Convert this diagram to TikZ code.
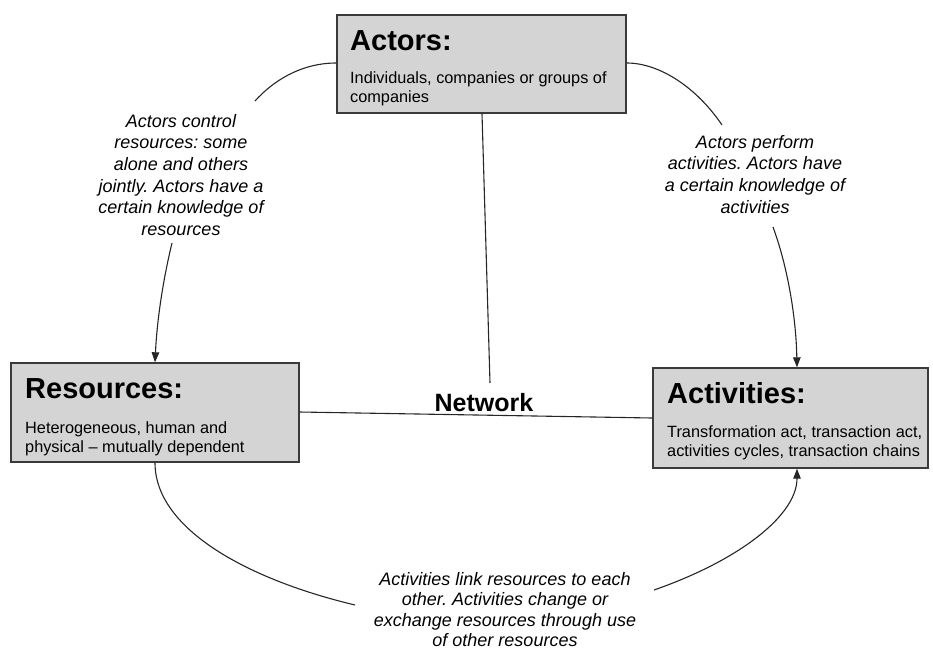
\documentclass[tikz,border=0pt]{standalone}
\usepackage{fontspec}
\setmainfont{Liberation Sans}
\usetikzlibrary{arrows.meta}
\frenchspacing
\definecolor{boxfill}{HTML}{D4D4D4}
\definecolor{boxline}{HTML}{3A3A3A}
\tikzset{
  box/.style={draw=boxline, line width=1.4pt, fill=boxfill, inner sep=0pt},
  boxtitle/.style={anchor=base west, inner sep=0pt, font=\fontsize{29}{32}\selectfont\bfseries},
  boxbody/.style={anchor=base west, inner sep=0pt, font=\fontsize{16.3}{19}\selectfont},
  linklabel/.style={anchor=base, inner sep=0pt, font=\fontsize{18}{21.7}\selectfont\itshape},
  link/.style={line width=1.1pt, draw=black!85},
  tip/.style={-{Triangle[length=10pt,width=7.5pt]}}
}
\begin{document}
\begin{tikzpicture}[x=1pt,y=-1pt]
\useasboundingbox (0,0) rectangle (933,653);

% the three boxes
\node[box, minimum width=289pt, minimum height=98pt] (actors) at (481.5,64) {};
\node[box, minimum width=288pt, minimum height=99pt] (resources) at (155,412.5) {};
\node[box, minimum width=275pt, minimum height=100pt] (activities) at (790.5,418) {};

% box texts
\node[boxtitle] (actorsT) at (350,50) {Actors:};
\node[boxbody] (actorsB) at (350,83) {\begin{tabular}[t]{@{}l@{}}Individuals, companies or groups of\\companies\end{tabular}};
\node[boxtitle] (resourcesT) at (25,398) {Resources:};
\node[boxbody] (resourcesB) at (25,433) {\begin{tabular}[t]{@{}l@{}}Heterogeneous, human and\\physical -- mutually dependent\end{tabular}};
\node[boxtitle] (activitiesT) at (667,403) {Activities:};
\node[boxbody] (activitiesB) at (667,437) {\begin{tabular}[t]{@{}l@{}}Transformation act, transaction act,\\activities cycles, transaction chains\end{tabular}};

% network lines
\coordinate (netTop) at (490,383);
\draw[link] (actors.south -| 482,0) -- (netTop);
\draw[link] (resources.east |- 0,412) -- (activities.west |- 0,418);
\node[anchor=base, inner sep=0pt, font=\fontsize{25}{28}\selectfont\bfseries] (network) at (484,411) {Network};

% link labels
\node[linklabel] (lblAR) at (181,127) {\begin{tabular}[t]{@{}c@{}}Actors control\\resources: some\\alone and others\\jointly. Actors have a\\certain knowledge of\\resources\end{tabular}};
\node[linklabel] (lblAA) at (755,148) {\begin{tabular}[t]{@{}c@{}}Actors perform\\activities. Actors have\\a certain knowledge of\\activities\end{tabular}};
\node[linklabel, font=\fontsize{18}{20.6}\selectfont\itshape] (lblRA) at (505,585) {\begin{tabular}[t]{@{}c@{}}Activities link resources to each\\other. Activities change or\\exchange resources through use\\of other resources\end{tabular}};

% free ends of the curved connectors
\coordinate (c1) at (255,101);
\coordinate (c2) at (172,243);
\coordinate (c3) at (722,125);
\coordinate (c4) at (773,227);
\coordinate (c5) at (355,605);
\coordinate (c6) at (654,590);

% actors -> resources
\draw[link] (actors.west |- 0,63) .. controls (300,63) and (272,82) .. (c1);
\draw[link, tip] (c2) .. controls (163,280) and (157,320) .. (resources.north);
% actors -> activities
\draw[link] (actors.east |- 0,63) .. controls (660,63) and (697,88) .. (c3);
\draw[link, tip] (c4) .. controls (787,265) and (796,315) .. (activities.north -| 797,0);
% resources -> activities
\draw[link] (resources.south) .. controls (155,530) and (250,580) .. (c5);
\draw[link, tip] (c6) .. controls (740,560) and (797,515) .. (activities.south -| 797,0);
\end{tikzpicture}
\end{document}
